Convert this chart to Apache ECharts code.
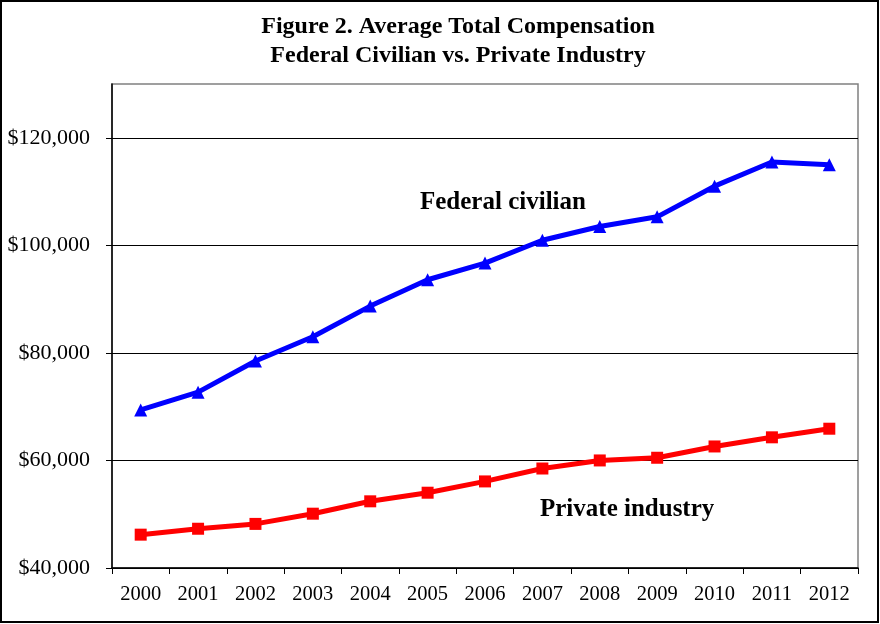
<!DOCTYPE html>
<html>
<head>
<meta charset="utf-8">
<script src="https://cdn.jsdelivr.net/npm/echarts@6/dist/echarts.min.js"></script>
<style>
html,body{margin:0;padding:0;background:#fff;}
#chart{width:880px;height:624px;}
</style>
</head>
<body>
<div id="chart"></div>
<script>
var years = ['2000','2001','2002','2003','2004','2005','2006','2007','2008','2009','2010','2011','2012'];
var federalCivilian = [69400, 72700, 78500, 83000, 88700, 93600, 96700, 100950, 103500, 105300, 111000, 115500, 115000];
var privateIndustry = [46200, 47300, 48200, 50100, 52400, 54000, 56100, 58500, 60000, 60500, 62600, 64300, 65900];
var titleLines = ['Figure 2. Average Total Compensation', 'Federal Civilian vs. Private Industry'];
var seriesNames = ['Federal civilian', 'Private industry'];

var serif = '"Liberation Serif", "Times New Roman", "DejaVu Serif", serif';
var chart = echarts.init(document.getElementById('chart'));
chart.setOption({
  animation: false,
  backgroundColor: '#fff',
  title: {
    text: titleLines.join('\n'),
    left: 453,
    textAlign: 'center',
    top: 7,
    textStyle: {fontFamily: serif, fontWeight: 'bold', fontSize: 24, lineHeight: 29, color: '#000'}
  },
  grid: {left: 112, right: 22, top: 84, bottom: 56, show: true, borderColor: '#808080', borderWidth: 1.5, backgroundColor: '#fff'},
  xAxis: {
    type: 'category',
    data: years,
    boundaryGap: true,
    axisLine: {lineStyle: {color: '#000', width: 1.5}},
    axisTick: {show: true, length: 6, inside: false, lineStyle: {color: '#000'}},
    axisLabel: {fontFamily: serif, fontSize: 20.5, color: '#000', margin: 16, interval: 0}
  },
  yAxis: {
    type: 'value',
    min: 40000,
    max: 130000,
    interval: 20000,
    axisLine: {show: true, lineStyle: {color: '#000', width: 1.5}},
    axisTick: {show: true, length: 6, lineStyle: {color: '#000'}},
    splitLine: {show: true, showMaxLine: false, lineStyle: {color: '#000', width: 1}},
    axisLabel: {
      fontFamily: serif, fontSize: 22, color: '#000', margin: 22, showMaxLabel: false,
      formatter: function (v) { return v === 130000 ? '' : '$' + v.toLocaleString('en-US'); }
    }
  },
  series: [
    {
      name: seriesNames[0], type: 'line', data: federalCivilian,
      symbol: 'triangle', symbolSize: 13,
      lineStyle: {color: '#0000FF', width: 5},
      itemStyle: {color: '#0000FF'}
    },
    {
      name: seriesNames[1], type: 'line', data: privateIndustry,
      symbol: 'rect', symbolSize: 12,
      lineStyle: {color: '#FF0000', width: 5},
      itemStyle: {color: '#FF0000'}
    }
  ],
  graphic: [
    {type: 'text', x: 420, y: 203, style: {text: seriesNames[0], font: 'bold 25px ' + serif, fill: '#000', verticalAlign: 'middle'}},
    {type: 'text', x: 540, y: 510, style: {text: seriesNames[1], font: 'bold 25px ' + serif, fill: '#000', verticalAlign: 'middle'}},
    {type: 'rect', shape: {x: 1, y: 1, width: 877, height: 621}, style: {fill: 'none', stroke: '#000', lineWidth: 2}, silent: true}
  ]
});
</script>
</body>
</html>
